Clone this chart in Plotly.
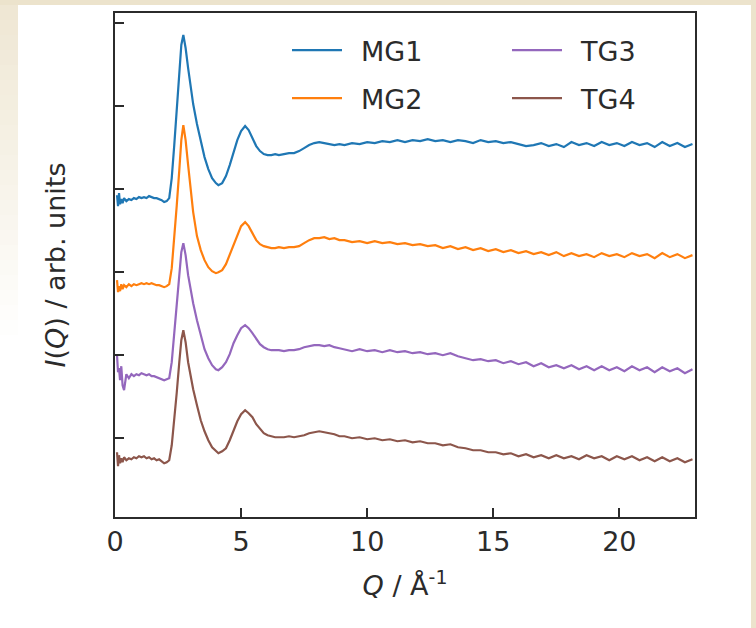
import plotly.graph_objects as go

# Scattering vector Q (1/Angstrom)
Q = [0.08, 0.12, 0.16, 0.2, 0.25, 0.3, 0.36, 0.45, 0.55, 0.65, 0.75, 0.85, 0.95, 1.05, 1.15, 1.25,
     1.35, 1.45, 1.55, 1.65, 1.75, 1.85, 1.95, 2.05,
     2.15, 2.25, 2.35, 2.45, 2.55, 2.63, 2.71, 2.8, 2.9, 3.0, 3.1, 3.25, 3.4, 3.55, 3.7, 3.85,
     4.0, 4.1, 4.25, 4.4, 4.55, 4.7, 4.85, 5.0, 5.16, 5.3, 5.45, 5.6, 5.75, 5.9, 6.05, 6.2, 6.35, 6.5,
     6.7, 6.9, 7.1, 7.3, 7.5, 7.7, 7.9, 8.1, 8.3, 8.5, 8.7, 8.9,
     9.1, 9.4, 9.7, 10.0, 10.3, 10.6, 10.9, 11.2, 11.5, 11.8, 12.1, 12.4, 12.7, 13.0, 13.3, 13.6,
     13.9, 14.2, 14.5, 14.8, 15.1, 15.4, 15.7, 16.0, 16.3, 16.6, 16.9, 17.2, 17.5, 17.8, 18.1, 18.4,
     18.7, 19.0, 19.3, 19.6, 19.9, 20.2, 20.5, 20.8, 21.1, 21.4, 21.7, 22.0, 22.3, 22.6, 22.9]

# Stacked intensities (raw counts incl. vertical offsets)
MG1 = [326, 315, 328, 317, 322, 318, 323, 320, 322, 321, 323, 322, 324, 323, 324, 323,
       325, 324, 323, 323, 322, 321, 319, 320,
       323, 343, 376, 413, 449, 476, 486, 473, 453, 433, 417, 397, 379, 364, 352, 343,
       338, 336, 338, 345, 356, 369, 381, 390, 395, 391, 383, 375, 370, 367, 366, 366, 367, 366,
       367, 368, 368, 370, 373, 376, 378, 379, 378, 377, 376, 377,
       376, 378, 377, 379, 378, 380, 379, 381, 379, 381, 380, 382, 380, 381, 379, 381,
       380, 378, 381, 379, 380, 378, 379, 377, 375, 376, 378, 375, 377, 374, 379, 376,
       378, 375, 379, 376, 378, 375, 379, 376, 378, 374, 379, 375, 378, 374, 377]

MG2 = [241, 229, 235, 230, 237, 232, 236, 234, 237, 235, 237, 236, 237, 238, 237, 238,
       237, 238, 237, 236, 236, 235, 234, 235,
       237, 253, 281, 316, 351, 381, 396, 381, 356, 331, 309, 285, 271, 261, 254, 250,
       248, 249, 251, 257, 267, 277, 287, 295, 299, 295, 288, 281, 277, 275, 274, 273, 273, 274,
       273, 274, 274, 275, 278, 281, 283, 283, 284, 282, 283, 281,
       281, 279, 280, 278, 280, 278, 279, 277, 278, 276, 277, 275, 276, 273, 275, 272,
       274, 271, 273, 270, 272, 269, 271, 268, 270, 267, 269, 266, 269, 265, 268, 265,
       267, 264, 268, 265, 267, 264, 268, 265, 267, 263, 268, 264, 267, 263, 266]

TG3 = [166, 149, 153, 141, 155, 136, 131, 147, 143, 147, 145, 147, 146, 148, 147, 146,
       147, 145, 145, 144, 143, 142, 141, 142,
       143, 159, 186, 216, 246, 269, 278, 266, 246, 231, 218, 201, 185, 172, 163, 156,
       152, 151, 154, 159, 167, 178, 186, 193, 196, 193, 188, 182, 177, 174, 172, 171, 171, 171,
       170, 171, 171, 172, 174, 175, 176, 176, 175, 176, 174, 173,
       172, 170, 172, 170, 171, 169, 171, 169, 170, 168, 169, 167, 168, 166, 168, 165,
       163, 161, 162, 160, 161, 158, 160, 157, 159, 155, 158, 154, 156, 153, 156, 152,
       155, 151, 155, 151, 154, 150, 155, 151, 154, 149, 154, 150, 153, 148, 152]

TG4 = [69, 55, 66, 58, 63, 59, 64, 61, 63, 62, 64, 63, 65, 64, 65, 63,
       64, 62, 63, 61, 62, 60, 58, 59,
       61, 76, 101, 129, 159, 181, 191, 179, 159, 144, 132, 116, 101, 90, 81, 74,
       70, 68, 70, 73, 81, 91, 100, 107, 111, 108, 104, 97, 92, 88, 86, 85, 84, 84,
       84, 85, 84, 85, 86, 88, 89, 90, 89, 88, 87, 85,
       85, 83, 84, 82, 83, 81, 82, 80, 81, 79, 80, 78, 78, 76, 77, 74,
       73, 71, 71, 69, 69, 67, 68, 65, 67, 64, 66, 63, 66, 63, 65, 62,
       66, 63, 65, 61, 65, 62, 65, 61, 64, 60, 64, 60, 63, 59, 62]

NORM = 83.0  # normalisation so that successive offsets are 1 unit apart

SERIES = [
    ("MG1", MG1, "#1f77b4", "legend"),
    ("MG2", MG2, "#ff7f0e", "legend"),
    ("TG3", TG3, "#9467bd", "legend2"),
    ("TG4", TG4, "#8c564b", "legend2"),
]

FONT = "DejaVu Sans"
INK = "#2b2b2b"
GAP = "\u00a0\u2009"  # extra gap between legend line and label

fig = go.Figure()
for name, vals, color, leg in SERIES:
    fig.add_trace(go.Scatter(
        x=Q, y=[v / NORM for v in vals], mode="lines", name=GAP + name,
        line=dict(color=color, width=2.2), legend=leg, legendgroup=name,
    ))

# decorative beige frame around the white panel (paper coordinates)
W, H, L, R, T, B = 756, 628, 115, 61, 13, 111
PW, PH = W - L - R, H - T - B


def px_x(px):
    return (px - L) / PW


def px_y(py):
    return (H - B - py) / PH


BEIGE = "#ece3cc"
shapes = [
    dict(type="rect", xref="paper", yref="paper", x0=px_x(-10), x1=px_x(W + 10),
         y0=px_y(5), y1=px_y(-10), fillcolor=BEIGE, line_width=0, layer="below"),
    dict(type="rect", xref="paper", yref="paper", x0=px_x(751), x1=px_x(W + 10),
         y0=px_y(H + 10), y1=px_y(-10), fillcolor=BEIGE, line_width=0, layer="below"),
]
steps = 22
for i in range(steps):
    op = 1.0 - i / steps
    shapes.append(dict(type="rect", xref="paper", yref="paper", x0=px_x(-10), x1=px_x(18),
                       y0=px_y(5 + 15 * (i + 1)), y1=px_y(5 + 15 * i),
                       fillcolor=BEIGE, opacity=op * 0.85, line_width=0, layer="below"))

leg_common = dict(font=dict(family=FONT, size=27, color=INK), bgcolor="rgba(0,0,0,0)",
                  borderwidth=0, orientation="v", tracegroupgap=10, itemwidth=50,
                  xanchor="left", yanchor="top")

fig.update_layout(
    width=W, height=H,
    margin=dict(l=L, r=R, t=T, b=B),
    paper_bgcolor="white", plot_bgcolor="white",
    font=dict(family=FONT, size=27, color=INK),
    showlegend=True,
    legend=dict(x=px_x(287), y=px_y(26), **leg_common),
    legend2=dict(x=px_x(507), y=px_y(26), **leg_common),
    shapes=shapes,
    xaxis=dict(
        range=[0, 23], tickvals=[0, 5, 10, 15, 20], ticks="inside", ticklen=9, tickwidth=1.5,
        tickcolor=INK, showline=True, linecolor=INK, linewidth=2, mirror=True,
        showgrid=False, zeroline=False, tickfont=dict(family=FONT, size=27, color=INK),
        title=dict(text="<i>Q</i> / Å<sup>-1</sup>", font=dict(family=FONT, size=27, color=INK),
                   standoff=20),
    ),
    yaxis=dict(
        range=[4.3 / NORM, 508 / NORM], tickvals=[1, 2, 3, 4, 5, 6], showticklabels=False,
        ticks="inside", ticklen=9, tickwidth=1.5, tickcolor=INK,
        showline=True, linecolor=INK, linewidth=2, mirror=True, showgrid=False, zeroline=False,
        title=dict(text="<i>I</i>(<i>Q</i>) / arb. units", font=dict(family=FONT, size=27, color=INK),
                   standoff=40),
    ),
)

fig.write_html("out.html", config={"displayModeBar": False},
               post_script="document.body.style.margin='0';document.body.style.overflow='hidden';")
